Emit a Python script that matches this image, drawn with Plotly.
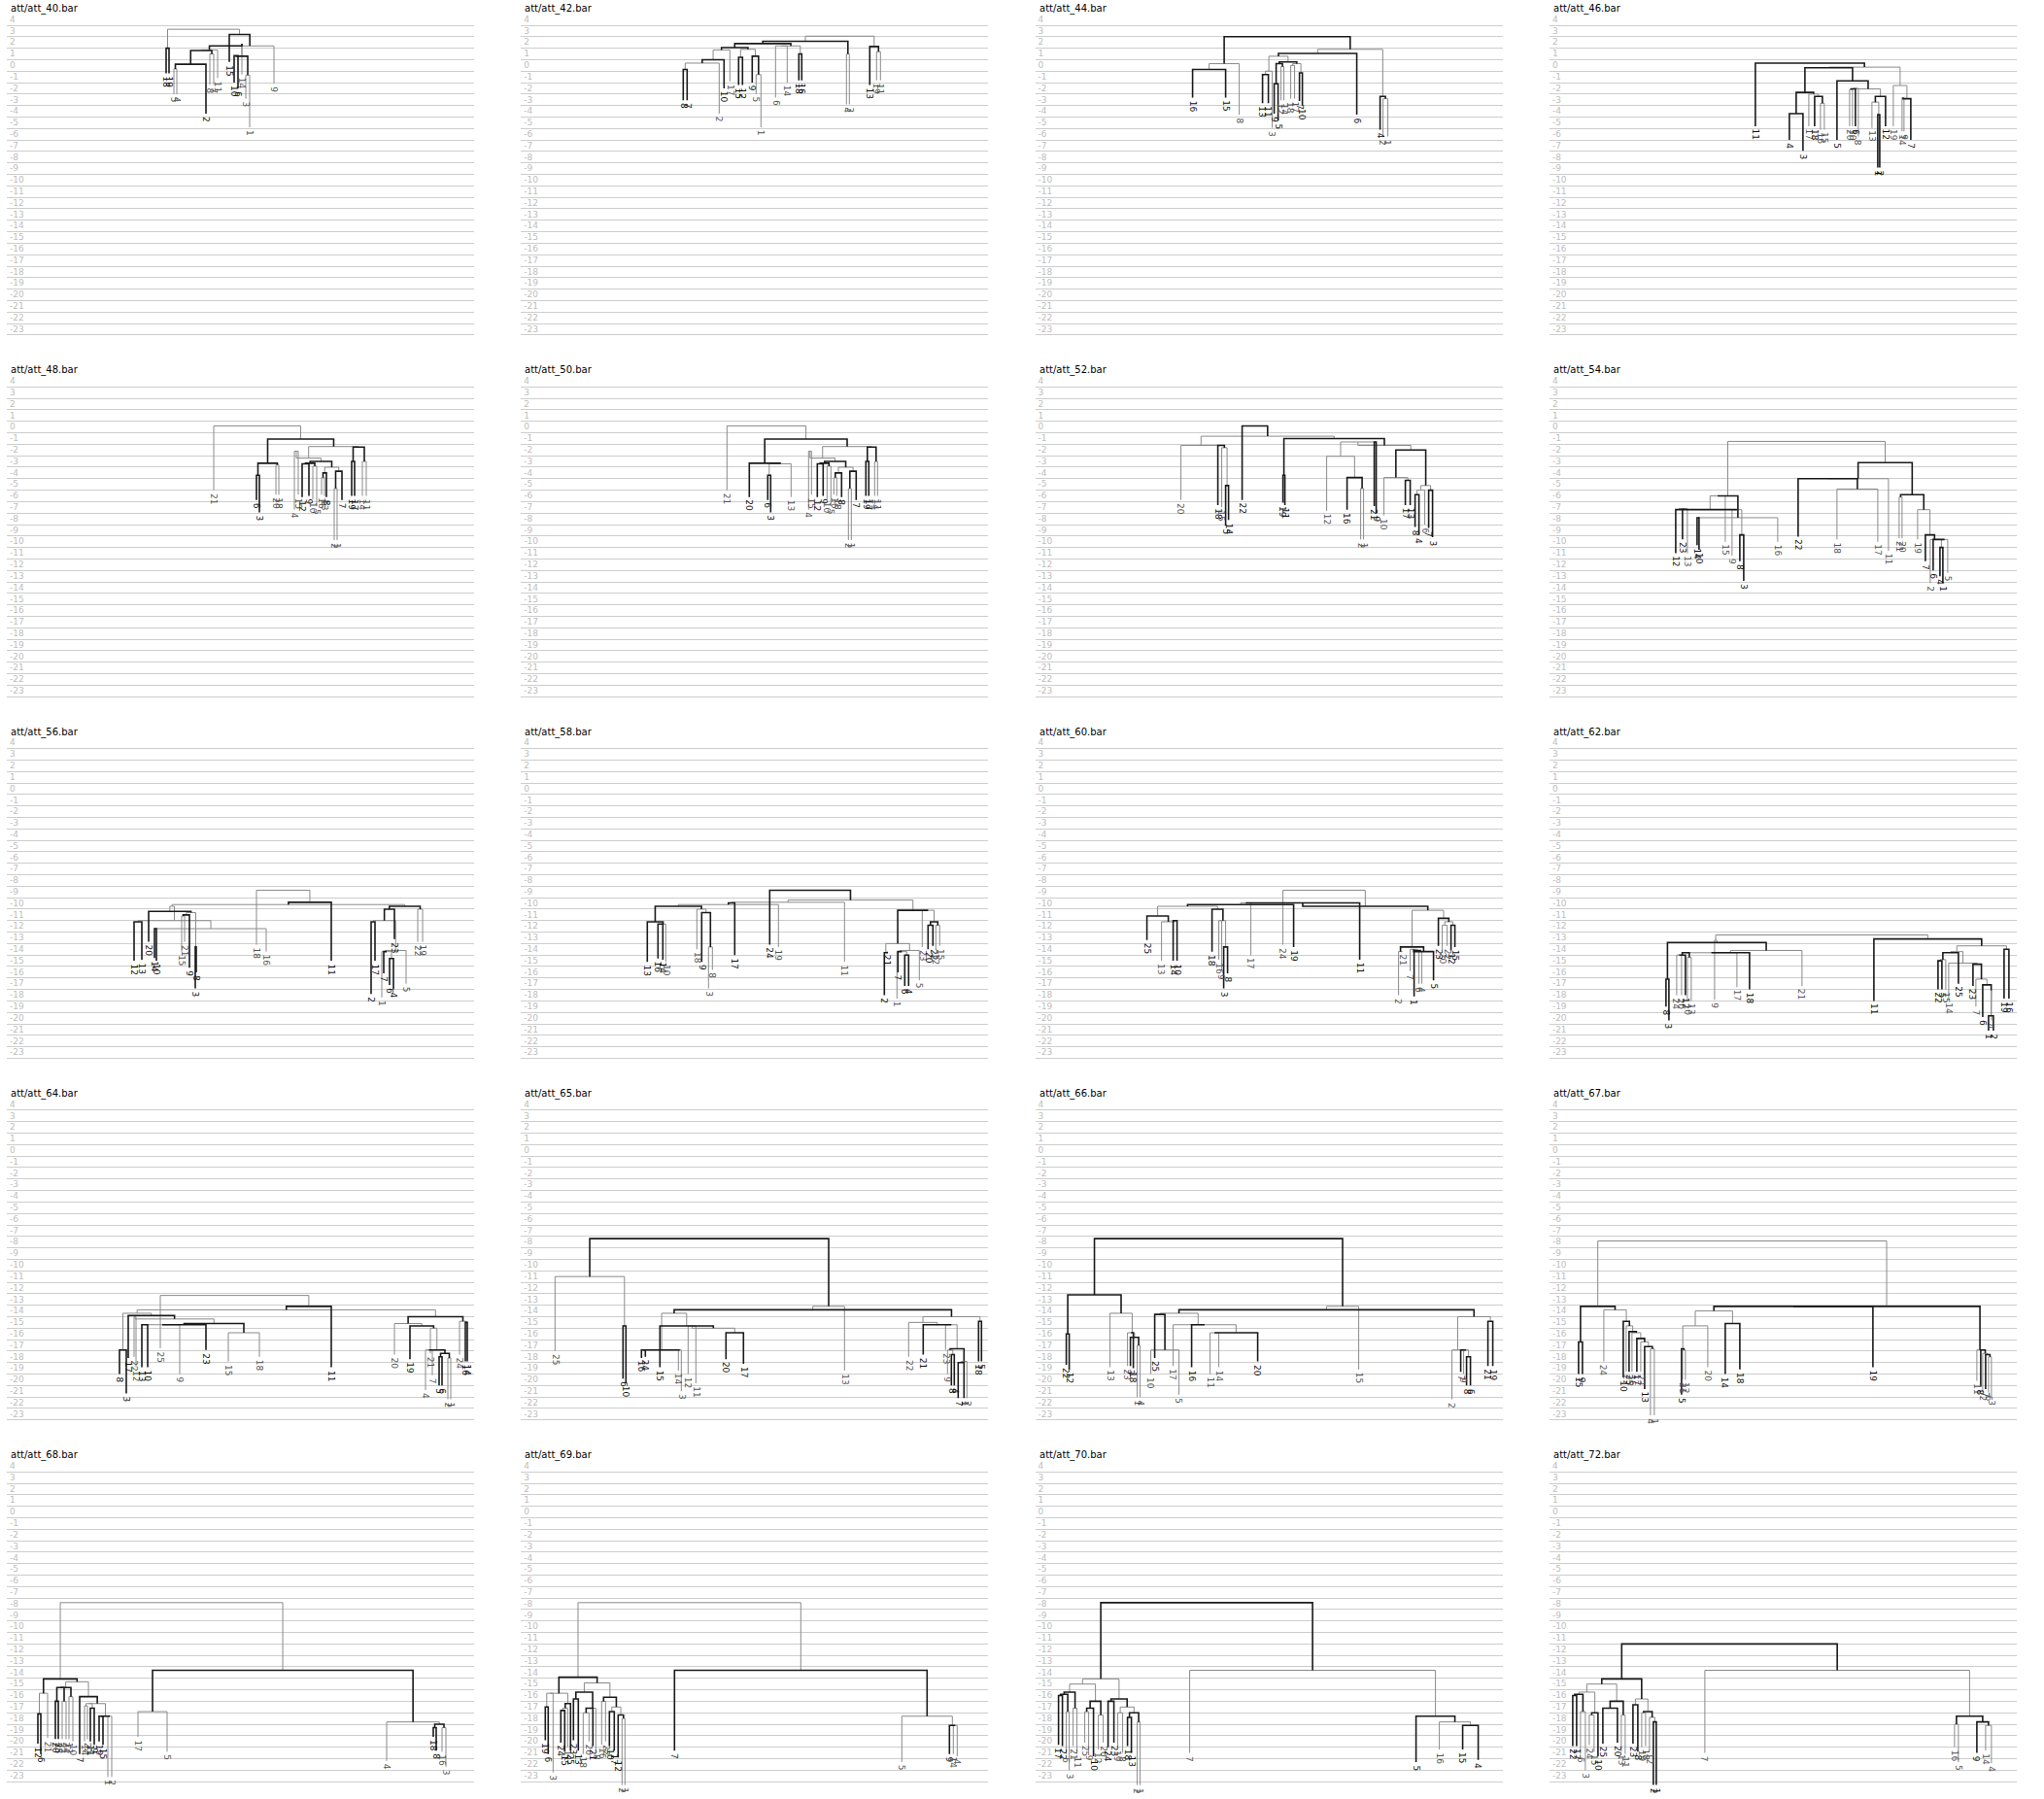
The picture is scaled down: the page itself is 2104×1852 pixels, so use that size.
import plotly.graph_objects as go

# ---------------- data ----------------
TICK_VALUES = [4, 3, 2, 1, 0, -1, -2, -3, -4, -5, -6, -7, -8, -9, -10, -11, -12, -13, -14, -15, -16, -17, -18, -19, -20, -21, -22, -23]
TICK_LABELS = ["4", "3", "2", "1", "0", "-1", "-2", "-3", "-4", "-5", "-6", "-7", "-8", "-9", "-10", "-11", "-12", "-13", "-14", "-15", "-16", "-17", "-18", "-19", "-20", "-21", "-22", "-23"]

TITLES = ["att/att_40.bar", "att/att_42.bar", "att/att_44.bar", "att/att_46.bar",
          "att/att_48.bar", "att/att_50.bar", "att/att_52.bar", "att/att_54.bar",
          "att/att_56.bar", "att/att_58.bar", "att/att_60.bar", "att/att_62.bar",
          "att/att_64.bar", "att/att_65.bar", "att/att_66.bar", "att/att_67.bar",
          "att/att_68.bar", "att/att_69.bar", "att/att_70.bar", "att/att_72.bar"]

# leaves: label, horizontal position, end value ; merges: (child, child, height)
labels40 = ["18", "19", "5", "4", "2", "8", "7", "11", "15", "10", "6", "14", "3", "1", "9"]
x40 = [164, 167, 172, 175, 205, 209, 213, 217, 229, 234, 238, 242, 246, 250, 275]
y40 = [-0.2, -0.2, -2.0, -2.0, -3.7, -1.2, -1.2, -0.6, 0.8, -1.0, -1.5, -0.3, -2.4, -4.9, -1.1]
merges40 = [("18", "19", 2.0), ("5", "4", 0.2), (1, "2", 0.6), ("8", "7", 1.5), (2, 3, 1.8),
            (4, "11", 1.85), ("10", "6", 1.35), ("3", "1", -0.35), (6, 7, 1.3), (8, "14", 2.4),
            (5, 9, 2.2), (10, "9", 2.2), ("15", 11, 3.2), (0, 12, 3.65)]

labels42 = ["8", "7", "2", "10", "17", "15", "12", "9", "5", "1", "6", "14", "18", "16", "4", "3", "13", "19", "11"]
x42 = [167, 171, 204, 209, 215, 224, 228, 238, 242, 247, 262, 274, 286, 289, 335, 338, 359, 366, 370]
y42 = [-2.55, -2.55, -3.7, -1.5, -0.9, -1.2, -1.2, -1.0, -2.0, -4.9, -2.3, -1.0, -0.8, -0.8, -2.9, -2.9, -1.2, -0.8, -0.8]
merges42 = [("8", "7", 0.15), (0, "2", 0.7), (1, "10", 1.0), (2, "17", 1.85), ("15", "12", 1.2),
            ("5", "1", -0.3), ("9", 5, 1.3), (4, 6, 1.9), (3, 7, 2.05), ("6", "14", 2.2),
            ("18", "16", 1.5), (9, 10, 2.2), (8, 11, 2.4), ("4", "3", 1.5), (12, 13, 2.6),
            ("19", "11", 1.7), ("13", 15, 2.15), (14, 16, 3.05)]

labels44 = ["16", "15", "8", "13", "11", "3", "9", "5", "12", "14", "18", "17", "7", "10", "6", "4", "2", "1"]
x44 = [162, 196, 210, 234, 240, 244, 246, 250, 253, 256, 263, 267, 272, 275, 331, 355, 358, 363]
y44 = [-2.3, -2.3, -3.8, -2.8, -2.8, -4.95, -3.7, -4.3, -2.55, -2.55, -2.4, -2.4, -2.6, -3.0, -3.8, -5.1, -5.7, -5.7]
merges44 = [("16", "15", 0.15), (0, "8", 0.65), ("13", "11", -0.3), (2, "3", 0.0), ("9", "5", -1.1),
            ("12", "14", 0.4), (4, 5, 0.65), ("18", "17", 0.5), ("7", "10", -0.15), (7, 8, 0.65),
            (6, 9, 0.8), (3, 10, 1.3), (11, "6", 1.55), ("2", "1", -2.4), ("4", 13, -2.2),
            (12, 14, 1.9), (1, 15, 3.0)]

labels46 = ["11", "4", "3", "17", "18", "16", "15", "5", "20", "10", "6", "8", "13", "1", "2", "12", "19", "14", "9", "7"]
x46 = [212, 247, 261, 267, 273, 279, 283, 296, 309, 312, 315, 318, 332, 338, 340, 346, 354, 363, 365, 372]
y46 = [-4.8, -6.0, -6.95, -4.8, -4.8, -5.1, -5.1, -6.0, -4.8, -4.8, -4.8, -5.7, -4.95, -8.4, -8.4, -4.8, -4.8, -5.25, -5.25, -6.0]
merges46 = [("4", "3", -3.7), ("16", "15", -2.8), ("18", 1, -2.2), ("17", 2, -2.0), (0, 3, -1.85),
            ("20", "10", -1.6), (5, "6", -1.55), (6, "8", -1.5), ("1", "2", -3.8), ("13", 8, -2.7),
            (9, "12", -2.2), (7, 10, -1.55), ("5", 11, -0.85), ("14", "9", -2.3), (13, "7", -2.4),
            ("19", 14, -1.25), (4, 12, 0.3), (16, 15, 0.35), ("11", 17, 0.7)]

labels48 = ["21", "6", "3", "20", "18", "4", "15", "12", "9", "10", "5", "16", "13", "8", "2", "1", "7", "19", "17", "14", "11"]
x48 = [213, 257, 260, 277, 280, 296, 300, 304, 311, 315, 319, 324, 327, 329, 337, 340, 345, 355, 358, 366, 370]
y48 = [-5.0, -5.85, -6.95, -5.4, -5.4, -6.7, -5.4, -5.6, -5.5, -5.8, -6.4, -5.4, -5.5, -5.6, -9.35, -9.35, -5.85, -5.5, -5.5, -5.5, -5.5]
merges48 = [("6", "3", -3.7), ("20", "18", -2.8), (0, 1, -2.65), ("4", "15", -1.6), ("12", "9", -2.7),
            ("10", "5", -2.9), (4, 5, -2.65), ("16", "13", -3.9), (7, "8", -3.5), ("2", "1", -4.85),
            (9, "7", -3.35), (8, 10, -3.0), (6, 11, -2.5), (3, 12, -2.2), ("19", "17", -2.5),
            ("14", "11", -2.5), (14, 15, -1.25), (13, 16, -1.2), (2, 17, -0.55), ("21", 18, 0.6)]

labels50 = ["21", "20", "6", "3", "13", "4", "15", "12", "9", "10", "5", "16", "18", "8", "2", "1", "7", "19", "17", "14", "11"]
x50 = [212, 235, 254, 257, 278, 296, 299, 305, 311, 315, 319, 322, 325, 330, 337, 340, 345, 355, 358, 364, 367]
y50 = [-5.0, -5.6, -5.85, -6.95, -5.6, -6.7, -5.4, -5.6, -5.5, -5.8, -6.4, -5.4, -5.5, -5.6, -9.35, -9.35, -5.85, -5.5, -5.5, -5.5, -5.5]
merges50 = [("6", "3", -3.7), (0, "13", -2.7), ("20", 1, -2.65), ("4", "15", -1.6), ("12", "9", -2.7),
            ("10", "5", -2.9), (4, 5, -2.65), ("16", "18", -3.9), (7, "8", -3.5), ("2", "1", -4.85),
            (9, "7", -3.35), (8, 10, -3.0), (6, 11, -2.5), (3, 12, -2.2), ("19", "17", -2.5),
            ("14", "11", -2.5), (14, 15, -1.25), (13, 16, -1.2), (2, 17, -0.55), ("21", 18, 0.6)]

labels52 = ["20", "18", "15", "5", "14", "22", "19", "11", "12", "16", "2", "1", "21", "9", "10", "17", "13", "8", "4", "6", "7", "3"]
x52 = [150, 188, 192, 196, 199, 213, 255, 257, 300, 321, 335, 338, 349, 351, 359, 381, 386, 391, 395, 401, 405, 409]
y52 = [-5.85, -6.3, -6.5, -8.1, -7.6, -5.85, -6.1, -6.3, -6.8, -6.7, -9.3, -9.3, -6.4, -7.0, -7.2, -6.3, -6.3, -8.2, -8.9, -8.0, -8.3, -9.1]
merges52 = [("5", "14", -4.6), ("15", 0, -1.3), ("18", 1, -1.1), ("20", 2, -1.1), ("19", "11", -3.7),
            ("2", "1", -4.85), ("16", 5, -3.9), ("12", 6, -2.05), ("21", "9", -0.8), (7, 8, -0.8),
            ("17", "13", -4.15), ("10", 10, -3.9), ("8", "4", -5.4), (12, "6", -5.0), ("7", "3", -5.0),
            (13, 14, -4.6), (11, 15, -1.5), (9, 16, -1.1), (4, 17, -0.5), (3, 18, -0.3), ("22", 19, 0.6)]

labels54 = ["12", "23", "13", "14", "10", "15", "9", "8", "3", "16", "22", "18", "17", "11", "21", "20", "19", "7", "2", "6", "4", "1", "5"]
x54 = [130, 137, 142, 152, 154, 181, 188, 196, 200, 235, 256, 296, 338, 349, 360, 363, 379, 387, 392, 395, 402, 405, 410]
y54 = [-10.5, -9.3, -10.5, -9.8, -10.2, -9.5, -10.7, -11.2, -12.9, -9.5, -9.05, -9.3, -9.5, -10.3, -9.2, -9.2, -9.3, -11.2, -13.1, -12.0, -12.5, -13.1, -12.2]
merges54 = [("12", "23", -6.7), (0, "13", -6.6), ("14", "10", -7.4), (2, "16", -7.4), ("8", "3", -8.9),
            ("9", 4, -6.7), (1, 5, -6.7), ("15", 6, -5.5), (7, 3, -5.5), ("18", "17", -4.9),
            ("22", 9, -4.0), ("21", "20", -5.6), ("1", "4", -10.0), ("5", 12, -9.3), ("6", 13, -9.3),
            ("2", 14, -9.3), ("7", 15, -8.9), ("19", 16, -6.7), (11, 17, -5.4), (10, "11", -4.0),
            (19, 18, -2.6), (8, 20, -0.75)]

labels56 = ["12", "13", "20", "14", "10", "15", "21", "9", "3", "8", "18", "16", "11", "2", "17", "1", "7", "6", "4", "23", "5", "22", "19"]
x56 = [131, 139, 146, 152, 154, 180, 183, 188, 194, 195, 257, 267, 334, 375, 379, 386, 388, 394, 398, 399, 411, 423, 428]
y56 = [-14.5, -14.4, -12.85, -14.25, -14.5, -13.7, -12.85, -15.1, -16.9, -15.5, -13.1, -13.7, -14.5, -17.4, -14.5, -17.7, -15.6, -16.6, -17.0, -12.6, -16.5, -12.85, -12.85]
merges56 = [("14", "10", -11.7), (0, "16", -11.7), ("8", "3", -13.3), ("15", "21", -10.6), (3, "9", -10.5),
            (4, 2, -10.3), ("12", "13", -11.1), (6, 1, -11.0), ("20", 5, -10.2), (7, 8, -9.75),
            ("6", "4", -14.3), ("1", 10, -13.7), ("7", 11, -13.7), (12, "5", -13.6), ("2", "17", -11.1),
            (14, 13, -11.0), (15, "23", -10.0), ("22", "19", -10.0), (16, 17, -9.75), (9, 18, -9.6),
            (19, "11", -9.4), ("18", 20, -8.35)]

labels58 = ["13", "16", "14", "10", "18", "9", "3", "8", "17", "24", "19", "11", "2", "21", "1", "7", "6", "4", "5", "23", "20", "22", "12", "15"]
x58 = [130, 141, 146, 149, 181, 186, 193, 197, 220, 256, 265, 333, 374, 377, 387, 388, 395, 399, 410, 413, 419, 424, 427, 431]
y58 = [-14.6, -14.3, -14.4, -14.6, -13.5, -14.6, -16.9, -15.3, -14.0, -13.1, -13.3, -14.6, -17.5, -13.7, -17.8, -15.5, -16.7, -16.7, -16.2, -13.3, -13.5, -13.2, -13.6, -13.2]
merges58 = [("16", "14", -11.3), (0, "10", -11.3), ("13", 1, -11.1), ("8", "3", -13.3), ("9", 3, -10.3),
            ("18", 4, -10.0), (2, 5, -9.75), (6, "19", -9.6), (7, "17", -9.45), (8, "11", -9.4),
            ("6", "4", -14.0), ("1", 10, -13.7), ("7", 11, -13.7), (12, "5", -13.6), ("2", "21", -13.8),
            (14, 13, -13.0), ("20", "22", -11.4), ("12", "15", -11.4), (16, 17, -11.1), ("23", 18, -10.1),
            (15, 19, -10.1), (9, 20, -9.2), ("24", 21, -8.35)]

labels60 = ["25", "13", "14", "10", "18", "16", "9", "3", "8", "17", "24", "19", "11", "2", "21", "7", "1", "6", "4", "5", "23", "20", "22", "12", "15"]
x60 = [115, 130, 142, 146, 182, 189, 192, 194, 198, 222, 255, 266, 334, 374, 378, 386, 390, 395, 398, 410, 415, 419, 424, 428, 432]
y60 = [-12.7, -14.5, -14.5, -14.5, -13.7, -14.4, -15.4, -16.9, -15.6, -14.0, -13.1, -13.3, -14.4, -17.5, -13.7, -15.4, -17.6, -16.5, -16.5, -16.2, -13.2, -13.5, -13.2, -13.6, -13.3]
merges60 = [("14", "10", -11.0), ("13", 0, -11.1), ("25", 1, -10.6), ("16", "9", -11.0), ("8", "3", -13.3),
            (3, 4, -11.0), ("18", 5, -10.0), (2, 6, -9.75), (7, "19", -9.6), (8, "17", -9.45),
            (9, "11", -9.45), ("6", "4", -13.7), ("1", 11, -13.6), ("7", 12, -13.5), (13, "5", -13.7),
            ("2", "21", -13.7), (15, 14, -13.3), ("20", "22", -11.4), ("12", "15", -11.4), (17, 18, -11.1),
            ("23", 19, -10.8), (16, 20, -10.1), (10, 21, -9.75), ("24", 22, -8.35)]

labels62 = ["8", "3", "24", "20", "12", "10", "13", "9", "17", "18", "21", "11", "22", "5", "15", "14", "25", "23", "7", "6", "1", "4", "2", "19", "16"]
x62 = [120, 123, 131, 136, 140, 142, 146, 170, 193, 206, 260, 334, 400, 404, 408, 411, 421, 436, 439, 446, 452, 455, 457, 468, 473]
y62 = [-18.5, -19.7, -17.5, -17.5, -17.5, -18.0, -18.0, -17.9, -16.8, -17.0, -16.7, -18.0, -17.0, -17.0, -17.0, -17.9, -16.5, -16.7, -18.5, -19.4, -20.6, -19.7, -20.6, -17.8, -17.8]
merges62 = [("8", "3", -16.1), ("24", "20", -14.0), (1, "12", -14.0), ("10", "13", -14.2), (2, 3, -13.8),
            (4, "17", -13.8), (5, "18", -13.8), (6, "21", -13.6), (0, 7, -12.9), (8, "9", -12.7),
            ("1", "2", -19.3), ("4", 10, -17.1), ("6", 11, -16.6), ("7", 12, -16.1), ("23", 13, -14.8),
            ("14", 14, -14.7), ("22", "5", -14.5), (16, "15", -14.4), (17, "25", -13.8), (18, 15, -13.7),
            ("19", "16", -13.5), (19, 20, -13.2), ("11", 21, -12.6), (9, 22, -12.25)]

labels64 = ["8", "3", "17", "22", "12", "13", "10", "25", "9", "23", "15", "18", "11", "20", "19", "4", "21", "7", "5", "6", "2", "1", "24", "16", "14"]
x64 = [116, 123, 125, 131, 133, 139, 145, 158, 178, 205, 228, 260, 334, 399, 415, 431, 436, 438, 445, 448, 454, 457, 466, 472, 474]
y64 = [-19.0, -20.7, -17.6, -17.5, -18.4, -18.4, -18.4, -16.75, -19.0, -16.9, -17.9, -17.5, -18.4, -17.3, -17.7, -20.4, -17.2, -19.1, -20.0, -20.0, -21.2, -21.2, -17.3, -17.9, -17.9]
merges64 = [("8", "3", -16.9), ("22", "12", -14.0), ("13", "10", -14.7), (2, "9", -14.7), (3, "23", -14.7),
            ("15", "18", -15.4), (4, 5, -14.6), (1, 6, -14.2), ("17", 7, -13.9), (0, 8, -13.7),
            ("5", "6", -17.5), ("2", "1", -17.6), (10, 11, -17.2), ("4", "7", -16.9), (13, 12, -16.9),
            ("21", 14, -15.0), ("19", 15, -14.8), ("20", 16, -14.6), ("16", "14", -14.5), ("24", 18, -14.4),
            (17, 19, -14.0), (9, 20, -13.4), (21, "11", -13.1), ("25", 22, -12.15)]

labels65 = ["25", "6", "10", "16", "24", "15", "14", "3", "12", "11", "20", "17", "13", "22", "21", "23", "9", "8", "4", "7", "1", "2", "18", "5"]
x65 = [35, 105, 108, 124, 128, 143, 162, 165, 172, 180, 211, 229, 333, 399, 414, 437, 439, 443, 446, 450, 456, 459, 471, 474]
y65 = [-17.0, -19.4, -19.8, -17.6, -17.5, -18.4, -18.7, -20.5, -19.0, -19.8, -17.7, -18.1, -18.7, -17.5, -17.3, -16.9, -19.0, -20.0, -20.0, -21.1, -21.1, -21.1, -17.9, -17.9]
merges65 = [("6", "10", -14.8), ("25", 0, -10.5), ("16", "24", -16.9), ("14", "3", -16.9), (2, 3, -16.9),
            ("12", "11", -14.8), ("20", "17", -15.4), (5, 6, -15.0), ("15", 7, -14.8), (4, 8, -13.7),
            ("7", "1", -18.0), (10, "2", -17.9), ("8", "4", -17.3), ("9", 12, -16.9), (13, 11, -16.8),
            ("23", 14, -14.7), ("21", 15, -14.7), ("22", 16, -14.5), ("18", "5", -14.4), (17, 18, -14.0),
            (9, 19, -13.4), (20, "13", -13.1), (1, 21, -7.2)]

labels66 = ["22", "12", "13", "23", "3", "18", "1", "4", "10", "25", "17", "5", "16", "11", "14", "20", "15", "2", "7", "9", "8", "6", "21", "19"]
x66 = [32, 35, 77, 95, 98, 101, 105, 108, 119, 123, 142, 148, 161, 180, 189, 229, 333, 429, 438, 441, 444, 448, 466, 471]
y66 = [-18.2, -18.6, -18.4, -18.3, -18.3, -18.5, -21.0, -21.0, -19.0, -17.6, -18.3, -20.8, -18.4, -19.0, -18.4, -17.9, -18.6, -21.2, -18.8, -19.0, -20.0, -20.0, -18.3, -18.3]
merges66 = [("22", "12", -15.5), ("1", "4", -16.5), ("3", 1, -15.8), ("23", 2, -15.4), (3, "18", -15.4),
            ("13", 4, -13.7), (0, 5, -12.1), ("10", "5", -16.9), ("25", 7, -13.8), ("11", "14", -15.4),
            (9, "20", -15.4), ("17", 10, -14.7), ("16", 11, -14.7), (8, 12, -13.7), ("8", "6", -17.5),
            ("9", 14, -16.9), ("7", 15, -16.9), ("2", 16, -16.9), ("21", "19", -14.4), (17, 18, -14.0),
            (13, 19, -13.4), (20, "15", -13.1), (6, 21, -7.2)]

labels67 = ["15", "9", "24", "10", "22", "25", "16", "17", "23", "13", "4", "1", "5", "21", "12", "20", "14", "18", "19", "11", "8", "2", "7", "6", "3"]
x67 = [30, 34, 56, 76, 79, 82, 85, 90, 94, 98, 104, 108, 136, 137, 140, 163, 181, 196, 333, 440, 444, 446, 449, 452, 455]
y67 = [-19.0, -19.0, -17.9, -19.3, -18.8, -18.8, -18.8, -18.8, -18.8, -20.3, -22.6, -22.6, -20.8, -19.5, -19.5, -18.4, -19.0, -18.6, -18.4, -19.6, -20.1, -20.6, -20.3, -20.6, -21.0]
merges67 = [("15", "9", -16.2), ("4", "1", -16.8), ("13", 1, -16.6), ("23", 2, -16.2), ("17", 3, -15.9),
            ("16", 4, -15.4), ("25", 5, -15.3), ("22", 6, -14.8), ("10", 7, -14.4), ("24", 8, -13.4),
            (0, 9, -13.1), ("21", "12", -16.9), ("5", 11, -16.8), (12, "20", -14.8), ("14", "18", -14.6),
            (13, 14, -13.5), (15, "19", -13.1), ("6", "3", -17.5), ("7", 17, -17.3), ("2", 18, -17.2),
            ("8", 19, -16.9), ("11", 20, -16.9), (16, 21, -13.1), (10, 22, -7.4)]

labels68 = ["12", "6", "21", "20", "25", "23", "24", "13", "10", "7", "14", "22", "11", "9", "19", "15", "1", "2", "17", "5", "4", "18", "8", "16", "3"]
x68 = [32, 35, 42, 50, 53, 57, 61, 64, 68, 75, 80, 83, 86, 90, 95, 99, 104, 108, 135, 165, 391, 439, 442, 448, 452]
y68 = [-19.7, -20.6, -19.2, -19.3, -19.3, -19.3, -19.3, -19.3, -19.5, -20.6, -19.5, -19.3, -19.5, -19.8, -19.5, -19.8, -22.6, -22.6, -19.1, -20.4, -21.2, -19.1, -20.3, -20.4, -21.7]
merges68 = [("12", "6", -17.1), ("21", 0, -15.3), ("20", "25", -16.0), ("23", "24", -16.0), (2, 3, -14.8),
            ("13", "10", -15.6), (4, 5, -14.8), ("14", "22", -16.4), ("11", "9", -16.6), (7, 8, -16.2),
            ("19", "15", -17.3), ("1", "2", -17.3), (10, 11, -17.3), (9, 12, -16.2), ("7", 13, -15.6),
            (6, 14, -14.3), (1, 15, -14.05), ("17", "5", -16.9), ("18", "8", -18.3), ("16", "3", -18.3),
            (18, 19, -18.0), ("4", 20, -17.8), (17, 21, -13.3), (16, 22, -7.4)]

labels69 = ["19", "6", "3", "24", "15", "11", "25", "23", "13", "18", "20", "21", "8", "16", "22", "10", "17", "12", "2", "1", "7", "5", "9", "14", "4"]
x69 = [25, 28, 33, 41, 45, 48, 51, 54, 59, 64, 70, 74, 77, 83, 87, 91, 96, 100, 104, 107, 158, 392, 441, 445, 449]
y69 = [-19.4, -20.6, -22.2, -19.6, -20.4, -20.0, -20.3, -19.4, -20.3, -20.6, -19.5, -19.9, -20.4, -19.8, -19.5, -19.9, -20.3, -20.9, -23.3, -23.3, -20.3, -21.3, -20.6, -20.6, -20.8]
merges69 = [("19", "6", -16.5), (0, "3", -15.3), ("24", "15", -16.8), (2, "11", -16.6), (3, "25", -16.2),
            (1, 4, -15.3), ("23", "13", -15.8), ("18", "20", -17.0), (7, "21", -16.6), (8, "8", -16.6),
            (6, 9, -15.2), ("16", "22", -16.0), ("10", "17", -16.9), ("2", "1", -17.5), ("12", 13, -17.2),
            (12, 14, -16.5), (11, 15, -15.65), (10, 16, -14.4), (5, 17, -13.9), ("14", "4", -18.1),
            ("9", 19, -18.1), ("5", 20, -17.3), ("7", 21, -13.3), (18, 22, -7.4)]

labels70 = ["17", "22", "6", "3", "21", "11", "25", "9", "10", "12", "20", "24", "23", "19", "8", "18", "13", "2", "1", "7", "5", "16", "15", "4"]
x70 = [24, 28, 32, 35, 39, 43, 51, 55, 60, 65, 70, 75, 81, 85, 90, 95, 99, 105, 108, 159, 392, 416, 440, 456]
y70 = [-19.8, -19.9, -20.6, -22.0, -19.9, -20.6, -19.6, -20.4, -20.8, -20.2, -19.6, -20.0, -19.6, -20.0, -20.5, -19.9, -20.5, -23.3, -23.3, -20.5, -21.3, -20.2, -20.2, -21.1]
merges70 = [("17", "22", -15.5), ("6", "3", -16.9), (0, 1, -15.4), ("21", "11", -16.6), (2, 3, -15.2),
            ("25", "9", -16.9), (5, "10", -16.6), ("12", "20", -17.2), (6, 7, -16.0), (4, 8, -14.5),
            ("24", "23", -16.0), ("19", "8", -17.0), ("18", "13", -17.4), ("2", "1", -17.8), (12, 13, -17.0),
            (11, 14, -16.5), (10, 15, -15.8), (9, 16, -14.05), ("15", "4", -18.1), ("16", 18, -17.8),
            ("5", 19, -17.3), ("7", 20, -13.3), (17, 21, -7.4)]

labels72 = ["22", "17", "6", "3", "24", "15", "10", "25", "20", "13", "11", "23", "8", "19", "18", "12", "2", "1", "7", "16", "5", "9", "14", "4"]
x72 = [24, 28, 32, 37, 41, 46, 50, 55, 70, 74, 78, 86, 91, 95, 99, 103, 107, 110, 160, 417, 421, 440, 449, 455]
y72 = [-19.9, -19.9, -20.6, -22.0, -19.8, -20.4, -20.8, -19.7, -19.6, -20.4, -20.6, -19.7, -20.4, -20.0, -19.9, -20.3, -23.3, -23.3, -20.5, -20.0, -21.3, -20.5, -20.3, -21.4]
merges72 = [("22", "17", -15.5), ("6", "3", -16.9), (0, 1, -15.4), ("24", "15", -17.2), (3, "10", -17.0),
            (2, 4, -15.2), ("25", "20", -16.6), ("13", "11", -17.2), (6, 7, -16.0), (5, 8, -14.5),
            ("23", "8", -16.3), ("19", "18", -17.0), ("2", "1", -17.8), ("12", 12, -17.4), (11, 13, -16.9),
            (10, 14, -15.8), (9, 15, -14.05), ("14", "4", -18.1), ("9", 17, -17.8), ("16", "5", -18.0),
            (19, 18, -17.3), ("7", 20, -13.3), (16, 21, -11.0)]

PANEL_DATA = [
    (labels40, x40, y40, merges40), (labels42, x42, y42, merges42),
    (labels44, x44, y44, merges44), (labels46, x46, y46, merges46),
    (labels48, x48, y48, merges48), (labels50, x50, y50, merges50),
    (labels52, x52, y52, merges52), (labels54, x54, y54, merges54),
    (labels56, x56, y56, merges56), (labels58, x58, y58, merges58),
    (labels60, x60, y60, merges60), (labels62, x62, y62, merges62),
    (labels64, x64, y64, merges64), (labels65, x65, y65, merges65),
    (labels66, x66, y66, merges66), (labels67, x67, y67, merges67),
    (labels68, x68, y68, merges68), (labels69, x69, y69, merges69),
    (labels70, x70, y70, merges70), (labels72, x72, y72, merges72),
]

# ---------------- layout / style ----------------
W, H = 2104, 1852
PANEL_W = 481
COL_STEP = 529.3
ROW_STEP = 372.3
UNIT_PX = 11.81
Y_RANGE = [-23.6, 5.8]
STYLES = {
    "dark": dict(color="#1a1a1a", width=1.6),
    "light": dict(color="#8a8a8a", width=1.0),
}
LABEL_COLORS = {"dark": "#111111", "light": "#555555"}
FONT = "DejaVu Sans"


def build_segments(labels, xs, ys, merges):
    pos = {lab: (x, y) for lab, x, y in zip(labels, xs, ys)}
    nodes = []
    segs = {"dark": ([], []), "light": ([], [])}
    leaf_style = {}

    def get(ref):
        return nodes[ref] if isinstance(ref, int) else pos[ref]

    for k, (a, b, h) in enumerate(merges):
        xa, ya = get(a)
        xb, yb = get(b)
        style = "dark" if k % 2 == 0 else "light"
        X, Y = segs[style]
        X += [xa, xa, xb, xb, None]
        Y += [ya, h, h, yb, None]
        for ref in (a, b):
            if isinstance(ref, str):
                leaf_style[ref] = style
        nodes.append(((xa + xb) / 2.0, h))
    return pos, segs, leaf_style


fig = go.Figure()
layout = dict(
    width=W, height=H, margin=dict(l=0, r=0, t=0, b=0),
    paper_bgcolor="white", plot_bgcolor="rgba(0,0,0,0)", showlegend=False,
    font=dict(family=FONT),
)
annotations = []

for i, (title, (labels, xs, ys, merges)) in enumerate(zip(TITLES, PANEL_DATA)):
    r, c = divmod(i, 4)
    n = "" if i == 0 else str(i + 1)
    x0 = 7 + COL_STEP * c
    top_px = 26 + ROW_STEP * r - (Y_RANGE[1] - 4) * UNIT_PX
    bot_px = top_px + (Y_RANGE[1] - Y_RANGE[0]) * UNIT_PX
    layout["xaxis" + n] = dict(
        domain=[x0 / W, (x0 + PANEL_W) / W], range=[0, PANEL_W],
        visible=False, anchor="y" + n, fixedrange=True,
    )
    layout["yaxis" + n] = dict(
        domain=[1 - bot_px / H, 1 - top_px / H], range=Y_RANGE, anchor="x" + n,
        tickmode="array", tickvals=TICK_VALUES, ticktext=TICK_LABELS,
        showgrid=True, gridcolor="#cdcdcd", gridwidth=1, zeroline=False,
        showline=False, ticks="", ticklabelposition="inside top",
        tickfont=dict(size=9, color="#bdbdbd", family=FONT), fixedrange=True,
    )
    pos, segs, leaf_style = build_segments(labels, xs, ys, merges)
    for style in ("light", "dark"):
        X, Y = segs[style]
        fig.add_trace(go.Scatter(
            x=X, y=Y, mode="lines", line=STYLES[style],
            xaxis="x" + n, yaxis="y" + n, hoverinfo="skip",
        ))
    for lab in labels:
        lx, ly = pos[lab]
        annotations.append(dict(
            x=lx, y=ly, xref="x" + n, yref="y" + n, text=lab, textangle=90,
            showarrow=False, xanchor="center", yanchor="top", yshift=-1,
            font=dict(size=9, color=LABEL_COLORS[leaf_style.get(lab, "dark")], family=FONT),
        ))
    annotations.append(dict(
        x=(x0 + 3) / W, y=1 - (16 + ROW_STEP * r) / H, xref="paper", yref="paper",
        text=title, showarrow=False, xanchor="left", yanchor="bottom", borderpad=0,
        font=dict(size=10, color="#000000", family=FONT),
    ))

layout["annotations"] = annotations
fig.update_layout(**layout)
fig.write_html("out.html")
